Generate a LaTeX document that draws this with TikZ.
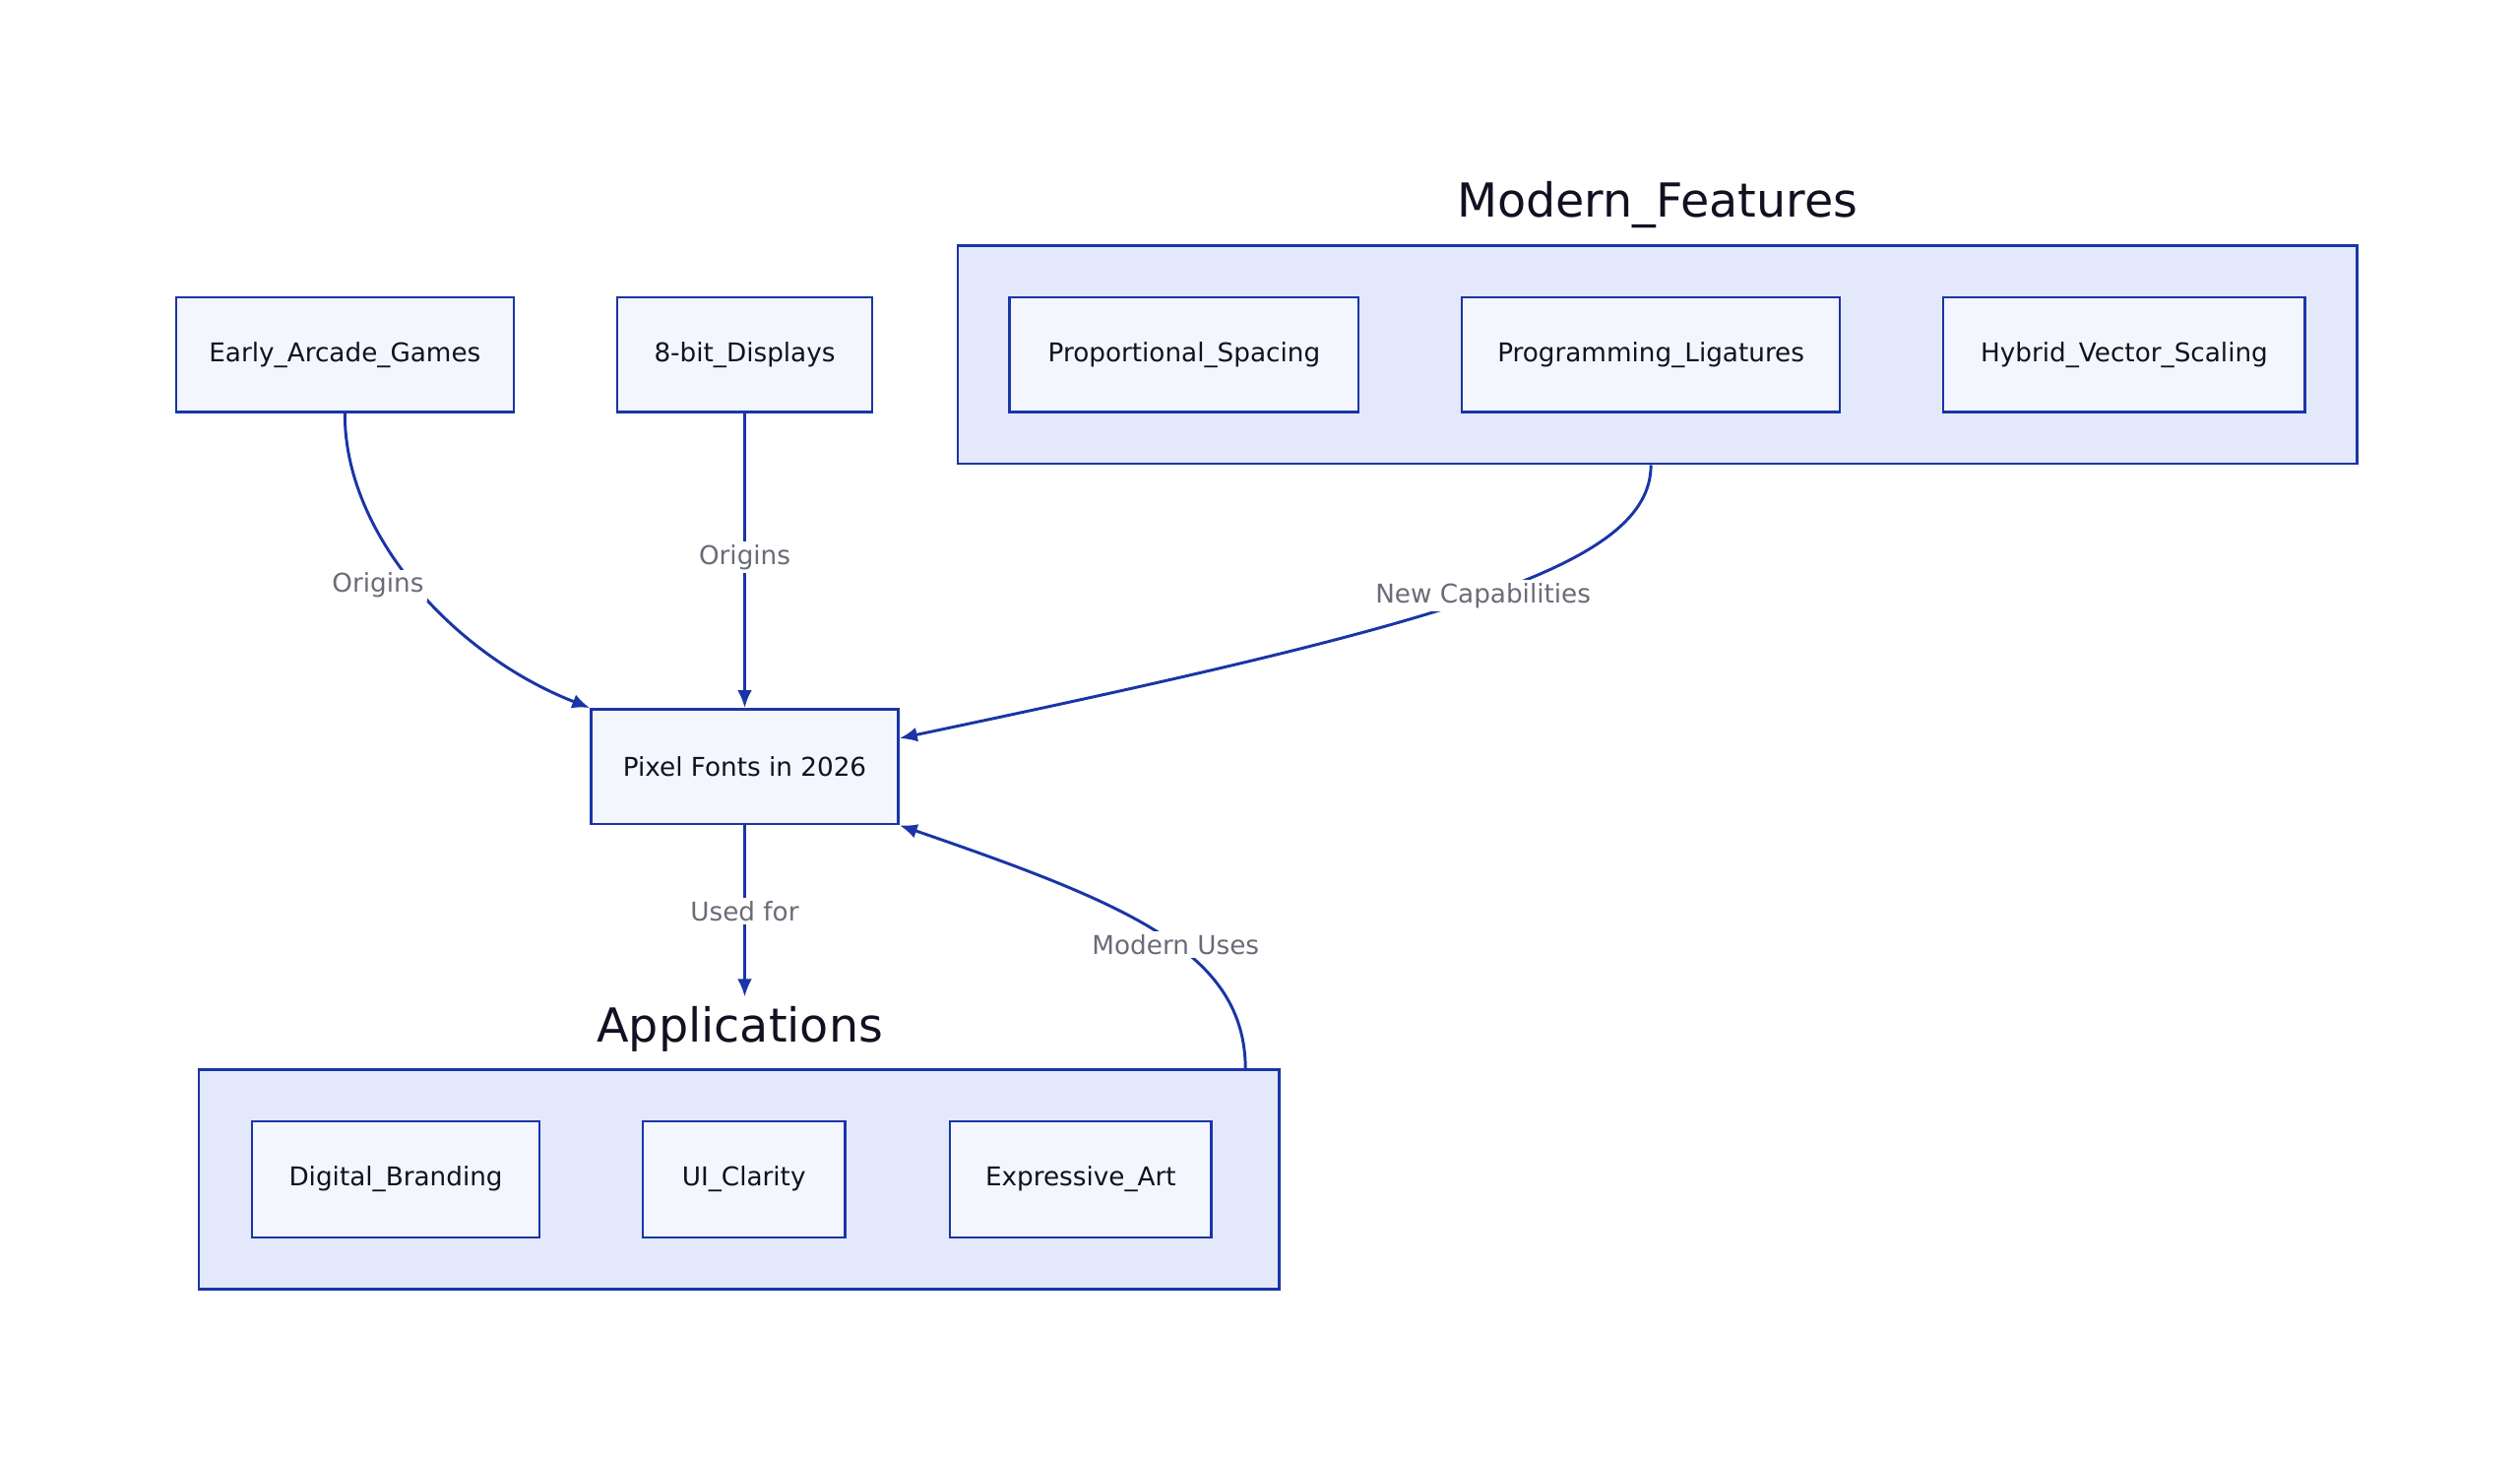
\documentclass[tikz,border=0pt]{standalone}
\usepackage{fontspec}
\setmainfont{DejaVu Sans}
\usetikzlibrary{arrows.meta}
\definecolor{stk}{HTML}{1A35A6}
\definecolor{nfill}{HTML}{F4F6FD}
\definecolor{cfill}{HTML}{E3E8FB}
\definecolor{lbl}{HTML}{6B6B78}
\definecolor{ttl}{HTML}{111122}
\begin{document}
\begin{tikzpicture}[x=1pt,y=-1pt,
  box/.style={draw=stk,fill=nfill,line width=1.6pt,font=\fontsize{16}{19}\selectfont,text=ttl},
  clus/.style={draw=stk,fill=cfill,line width=1.6pt},
  title/.style={font=\fontsize{29}{34}\selectfont,text=ttl},
  elbl/.style={fill=white,font=\fontsize{16}{19}\selectfont,text=lbl,inner sep=2pt},
  edge/.style={draw=stk,line width=1.8pt,-{Latex[length=11pt,width=9pt]}}]
\useasboundingbox (0,0) rectangle (1560,902);
% clusters
\node[clus,minimum width=866,minimum height=135] (mf) at (1026,219.5) {};
\node[title] (mft) at (1026,127) {Modern\_Features};
\node[clus,minimum width=669,minimum height=136] (ap) at (457.5,730) {};
\node[title] (apt) at (458,637) {Applications};
% nodes
\node[box,minimum width=209,minimum height=71] (ea) at (213.5,219.5) {Early\_Arcade\_Games};
\node[box,minimum width=158,minimum height=71] (eb) at (461,219.5) {8-bit\_Displays};
\node[box,minimum width=216,minimum height=71] (ps) at (733,219.5) {Proportional\_Spacing};
\node[box,minimum width=234,minimum height=71] (pl) at (1022,219.5) {Programming\_Ligatures};
\node[box,minimum width=224,minimum height=71] (hv) at (1315,219.5) {Hybrid\_Vector\_Scaling};
\node[box,minimum width=190,minimum height=71] (pf) at (461,474.5) {Pixel Fonts in 2026};
\node[box,minimum width=178,minimum height=72] (db) at (245,730) {Digital\_Branding};
\node[box,minimum width=125,minimum height=72] (ui) at (460.5,730) {UI\_Clarity};
\node[box,minimum width=162,minimum height=72] (ex) at (669,730) {Expressive\_Art};
\coordinate (uf) at (461,617);
% edges
\draw[edge] (ea.south) .. controls (213,330) and (280,405) .. (pf.north west)
  node[pos=0.5,elbl,left=-8pt] {Origins};
\draw[edge] (eb.south) -- node[elbl,pos=0.49] {Origins} (pf.north);
\draw[edge] (mf.south -| pl.south) .. controls (1022,350) and (900,385) .. (pf.east |- 0,457)
  node[pos=0.5,elbl] {New Capabilities};
\draw[edge] (pf.south) -- node[elbl,pos=0.5] {Used for} (uf);
\draw[edge] (771,662) .. controls (771,590) and (700,560) .. (pf.south east)
  node[pos=0.45,elbl] {Modern Uses};
\end{tikzpicture}
\end{document}
